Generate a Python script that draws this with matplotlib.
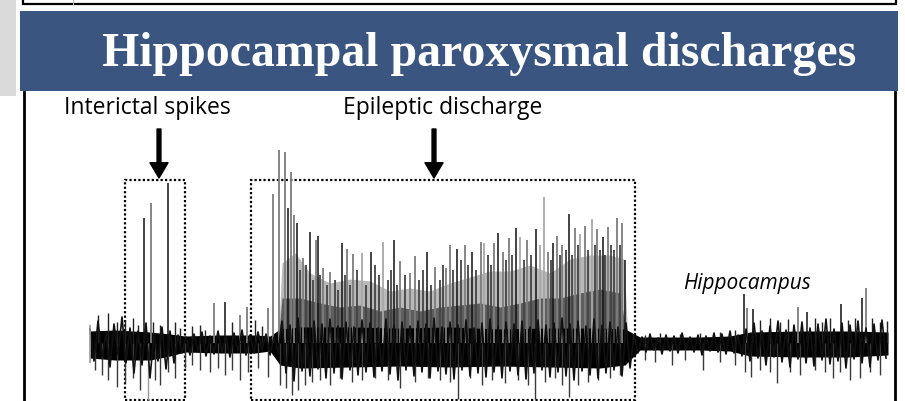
import matplotlib
matplotlib.use("Agg")
import numpy as np
import matplotlib.pyplot as plt
from matplotlib.patches import Rectangle

# hippocampal trace, time in s, amplitude in arbitrary units (baseline = 0)
# oscillation extremes read every 0.4 s
trace = [14, -18, 22, -15, 10, -24, 19, -12, 26, -20,
         15, -30, 12, -22, 20, -35, 9, -18, 16, -26,
         12, -20, 8, -10, 6, -12, 9, -8, 11, -13,
         7, -11, 12, -9, 6, -14, 10, -8, 13, -12,
         8, -10, 11, -7, 9, -12, 6, -9, 22, -30,
         18, -38, 25, -28, 15, -33, 22, -26, 19, -35,
         24, -30, 17, -36, 21, -27, 16, -32, 23, -29,
         20, -34, 15, -28, 24, -31, 18, -37, 21, -27,
         17, -33, 22, -29, 19, -35, 25, -28, 16, -31,
         21, -36, 18, -27, 23, -33, 15, -30, 20, -34,
         24, -29, 17, -35, 21, -28, 19, -32, 22, -36,
         16, -30, 23, -27, 18, -34, 20, -29, 25, -33,
         19, -37, 22, -28, 17, -32, 24, -35, 18, -30,
         21, -27, 16, -33, 20, -25, 8, -10, 6, -9,
         9, -7, 5, -11, 8, -8, 7, -10, 10, -6,
         6, -9, 8, -12, 7, -8, 10, -9, 9, -11,
         12, -10, 8, -13, 14, -18, 20, -15, 12, -22,
         17, -14, 22, -19, 13, -24, 18, -16, 21, -20,
         15, -23, 19, -17, 24, -21, 14, -18, 20, -25,
         18, -16, 22, -20, 15, -24, 19, -17, 23, -15]
sample_dt = 0.4

# solid black core of the trace
band_t = [0, 2.5, 6.0, 8.0, 9.5, 13.0, 16.5, 18.0, 19.0, 21.0, 26.0, 31.0, 36.0,
          41.0, 46.0, 51.0, 53.5, 55.0, 61.0, 64.0, 66.0, 71.0, 76.0, 79.8]
band_hi = [12, 13, 11, 9, 7, 8, 8, 7, 14, 16, 16, 15, 16, 14, 15, 15, 14, 6, 6, 7,
           11, 12, 12, 11]
band_lo = [-15, -17, -17, -13, -9, -10, -10, -8, -22, -25, -24, -23, -24, -23, -24,
           -25, -22, -7, -7, -8, -13, -14, -14, -12]

# seizure: envelope of the dense discharge mass
mass_t = [18.8, 19.2, 20.5, 22.0, 24.0, 26.0, 28.0, 30.0, 32.0, 34.0, 36.0, 38.0,
          40.0, 42.0, 44.0, 46.0, 48.0, 50.0, 52.0, 53.4, 53.8]
mass_light = [-2, 80, 90, 70, 60, 64, 62, 52, 55, 52, 60, 66, 72, 72, 78, 70, 84,
              88, 88, 84, -2]
mass2_t = [18.8, 19.2, 21.0, 23.0, 25.0, 27.0, 29.0, 31.0, 33.0, 35.0, 37.0, 39.0,
           41.0, 43.0, 45.0, 47.0, 49.0, 51.0, 53.0, 53.8]
mass_mid = [-2, 45, 45, 40, 36, 38, 32, 36, 32, 36, 38, 40, 36, 40, 45, 45, 50, 54,
            50, -2]

# big spikes
black_t = [5.4, 7.8, 13.5, 19.8, 20.7, 22.0, 22.8, 25.2, 28.1, 30.4, 33.7, 36.7,
           38.2, 40.8, 42.6, 44.6, 46.3, 47.9, 51.3, 53.5, 65.4, 66.3, 71.7, 75.1, 77.2]
black_a = [125, 160, 41, 135, 120, 111, 107, 100, 91, 103, 91, 94, 91, 110, 115,
           114, 100, 129, 106, 83, 49, 34, 31, 39, 45]
gray_t = [6.1, 12.4, 15.0, 15.7, 17.8, 18.3, 18.9, 19.5, 20.1, 20.4, 21.3, 22.6,
          23.3, 24.0, 25.7, 26.3, 31.0, 32.0, 32.5, 34.5, 35.6, 36.0, 37.5, 39.1,
          40.4, 41.3, 41.9, 43.7, 45.8, 46.7, 47.2, 48.5, 49.5, 50.7, 51.8, 52.7,
          53.2, 65.7, 70.8, 77.6]
gray_a = [140, 40, 28, 36, 35, 149, 193, 191, 171, 128, 85, 103, 75, 71, 94, 89,
          82, 70, 87, 76, 75, 98, 98, 101, 100, 91, 105, 103, 91, 107, 98, 115,
          117, 114, 116, 125, 120, 35, 36, 55]
light_t = [27.2, 29.3, 39.4, 43.0, 45.0, 45.4, 49.0, 50.2]
light_a = [90, 101, 100, 106, 98, 146, 109, 124]

# mid-height discharge spikes
mid_t = [21.0, 21.6, 22.3, 23.0, 23.7, 24.5, 24.8, 25.5, 26.0, 26.7, 27.6, 28.5,
         28.9, 29.8, 30.1, 30.7, 31.5, 32.9, 33.3, 34.1, 35.0, 35.3, 36.3, 37.1,
         37.8, 38.6, 39.8, 40.1, 41.6, 42.2, 43.4, 44.1, 46.1, 47.0, 47.6, 48.2,
         48.8, 49.8, 50.5, 51.0, 51.5, 52.1, 52.4, 53.0]
mid_a = [73, 78, 63, 68, 58, 63, 53, 68, 58, 73, 58, 78, 68, 63, 73, 58, 68, 63,
         73, 58, 63, 78, 73, 83, 78, 73, 88, 78, 83, 88, 83, 88, 83, 88, 93, 88,
         98, 93, 98, 93, 88, 98, 93, 98]

# small background spikes
small_t = [0.8, 1.8, 2.7, 3.5, 4.3, 4.8, 6.3, 7.0, 8.5, 9.0, 10.2, 11.0, 11.5, 14.2,
           16.5, 17.2, 55.5, 57.0, 59.0, 61.0, 63.0, 64.5, 67.0, 68.0, 69.0, 69.8,
           72.5, 73.2, 74.0, 75.8, 76.5, 78.2, 79.0, 79.7]
small_a = [28, 30, 21, 23, 25, 18, 21, 18, 21, 15, 17, 18, 13, 21, 23, 17, 8, 10,
           9, 10, 11, 13, 23, 25, 21, 24, 25, 21, 25, 23, 25, 25, 21, 22]
down_t = [0.5, 1.2, 1.8, 2.7, 3.5, 4.3, 5.0, 6.5, 7.0, 7.8, 8.5, 9.5, 10.2, 11.0,
          12.0, 12.8, 13.5, 14.2, 15.0, 15.8, 16.8, 17.8, 19.0, 19.6, 20.2, 20.8,
          21.5, 22.2, 23.0, 24.0, 25.0, 26.2, 27.2, 28.5, 29.8, 31.0, 32.5, 33.8,
          35.0, 36.0, 36.8, 38.0, 39.2, 40.2, 41.5, 42.8, 43.8, 44.5, 45.5, 46.5,
          47.2, 47.9, 48.8, 49.8, 50.8, 52.0, 53.0, 55.5, 56.5, 58.2, 59.5, 61.3,
          63.0, 64.5, 65.5, 66.1, 67.0, 68.0, 68.7, 70.0, 71.0, 72.5, 73.5, 74.3,
          75.0, 76.0, 77.0, 78.0, 79.0]
down_a = [-27, -32, -37, -44, -39, -35, -47, -37, -42, -29, -35, -25, -22, -27, -29,
          -25, -32, -27, -37, -29, -25, -34, -42, -45, -52, -47, -42, -39, -37, -42,
          -35, -39, -37, -35, -37, -45, -39, -35, -37, -39, -56, -35, -42, -37, -40,
          -37, -42, -56, -39, -35, -42, -54, -42, -39, -37, -35, -32, -17, -19, -22,
          -17, -27, -19, -22, -29, -34, -27, -29, -40, -29, -32, -27, -29, -35, -29,
          -37, -35, -29, -32]
down_gray_t = [5.8]
down_gray_a = [-57]

W, H = 905, 401
fig = plt.figure(figsize=(W / 100, H / 100), dpi=100)
fig.patch.set_facecolor("white")


def px(x0, y0, x1, y1, **kw):
    # rectangle given in pixel coords (top-left origin) -> figure fraction
    fig.patches.append(Rectangle((x0 / W, 1 - y1 / H), (x1 - x0) / W, (y1 - y0) / H,
                                 transform=fig.transFigure, figure=fig, **kw))


# page furniture around the slide
px(0, 0, 16, 96, facecolor="#dadada", edgecolor="none")
px(23, -5, 896, 4, facecolor="white", edgecolor="black", lw=1.6)
fig.add_artist(plt.Line2D([73 / W, 73 / W], [1 - 4 / H, 1.0], color="#bbbbbb", lw=0.8))
px(20, 11, 898, 91, facecolor="#3a5680", edgecolor="none")
fig.text(479 / W, 1 - 54 / H, "Hippocampal paroxysmal discharges", color="white",
         fontsize=34.5, fontweight="bold", family="Liberation Serif", ha="center",
         va="center")

ax = fig.add_axes([24 / W, 0, (895 - 24) / W, (401 - 92) / H])
ax.set_xlim(-6.6, 80.5)
ax.set_ylim(-58, 251)
ax.set_xticks([])
ax.set_yticks([])
for s in ["top", "bottom"]:
    ax.spines[s].set_visible(False)
for s in ["left", "right"]:
    ax.spines[s].set_linewidth(2)

ax.fill_between(mass_t, 0, mass_light, color="#b9b9b9", lw=0)
ax.vlines(light_t, 0, light_a, color="#a8a8a8", lw=1.3)
ax.vlines(gray_t, 0, gray_a, color="#7d7d7d", lw=1.3)
ax.fill_between(mass2_t, 0, mass_mid, color="#5e5e5e", lw=0)
ax.vlines(mid_t, 0, mid_a, color="#444444", lw=1.3)
ax.vlines(black_t, 0, black_a, color="#111111", lw=1.1)
ax.vlines(down_t, 0, down_a, color="#3a3a3a", lw=1.0)
ax.vlines(down_gray_t, 0, down_gray_a, color="#9a9a9a", lw=1.0)
ax.vlines(small_t, 0, small_a, color="#222222", lw=1.0)
trace_t = np.arange(len(trace)) * sample_dt
ax.plot(trace_t, trace, color="#111111", lw=1.2)
ax.fill_between(band_t, band_lo, band_hi, color="black", lw=0)
ax.vlines([0], [-20], [18], color="#999999", lw=1.2)

# dotted boxes and arrows
for x0, x1 in [(3.5, 9.5), (16.1, 54.5)]:
    ax.add_patch(Rectangle((x0, -57), x1 - x0, 220, fill=False, edgecolor="black",
                           lw=1.6, linestyle=(0, (1, 1)), clip_on=False))
for xa in [6.9, 34.4]:
    ax.annotate("", xy=(xa, 165), xytext=(xa, 214),
                arrowprops=dict(facecolor="black", edgecolor="black", width=2.8,
                                headwidth=13, headlength=11, shrink=0))

ax.text(5.7, 235, "Interictal spikes", ha="center", va="center", fontsize=16.5,
        family="Open Sans")
ax.text(35.3, 235, "Epileptic discharge", ha="center", va="center", fontsize=16.5,
        family="Open Sans")
ax.text(65.7, 60, "Hippocampus", ha="center", va="center", fontsize=15,
        style="italic", family="Open Sans")

fig.savefig("out.png", dpi=100)
